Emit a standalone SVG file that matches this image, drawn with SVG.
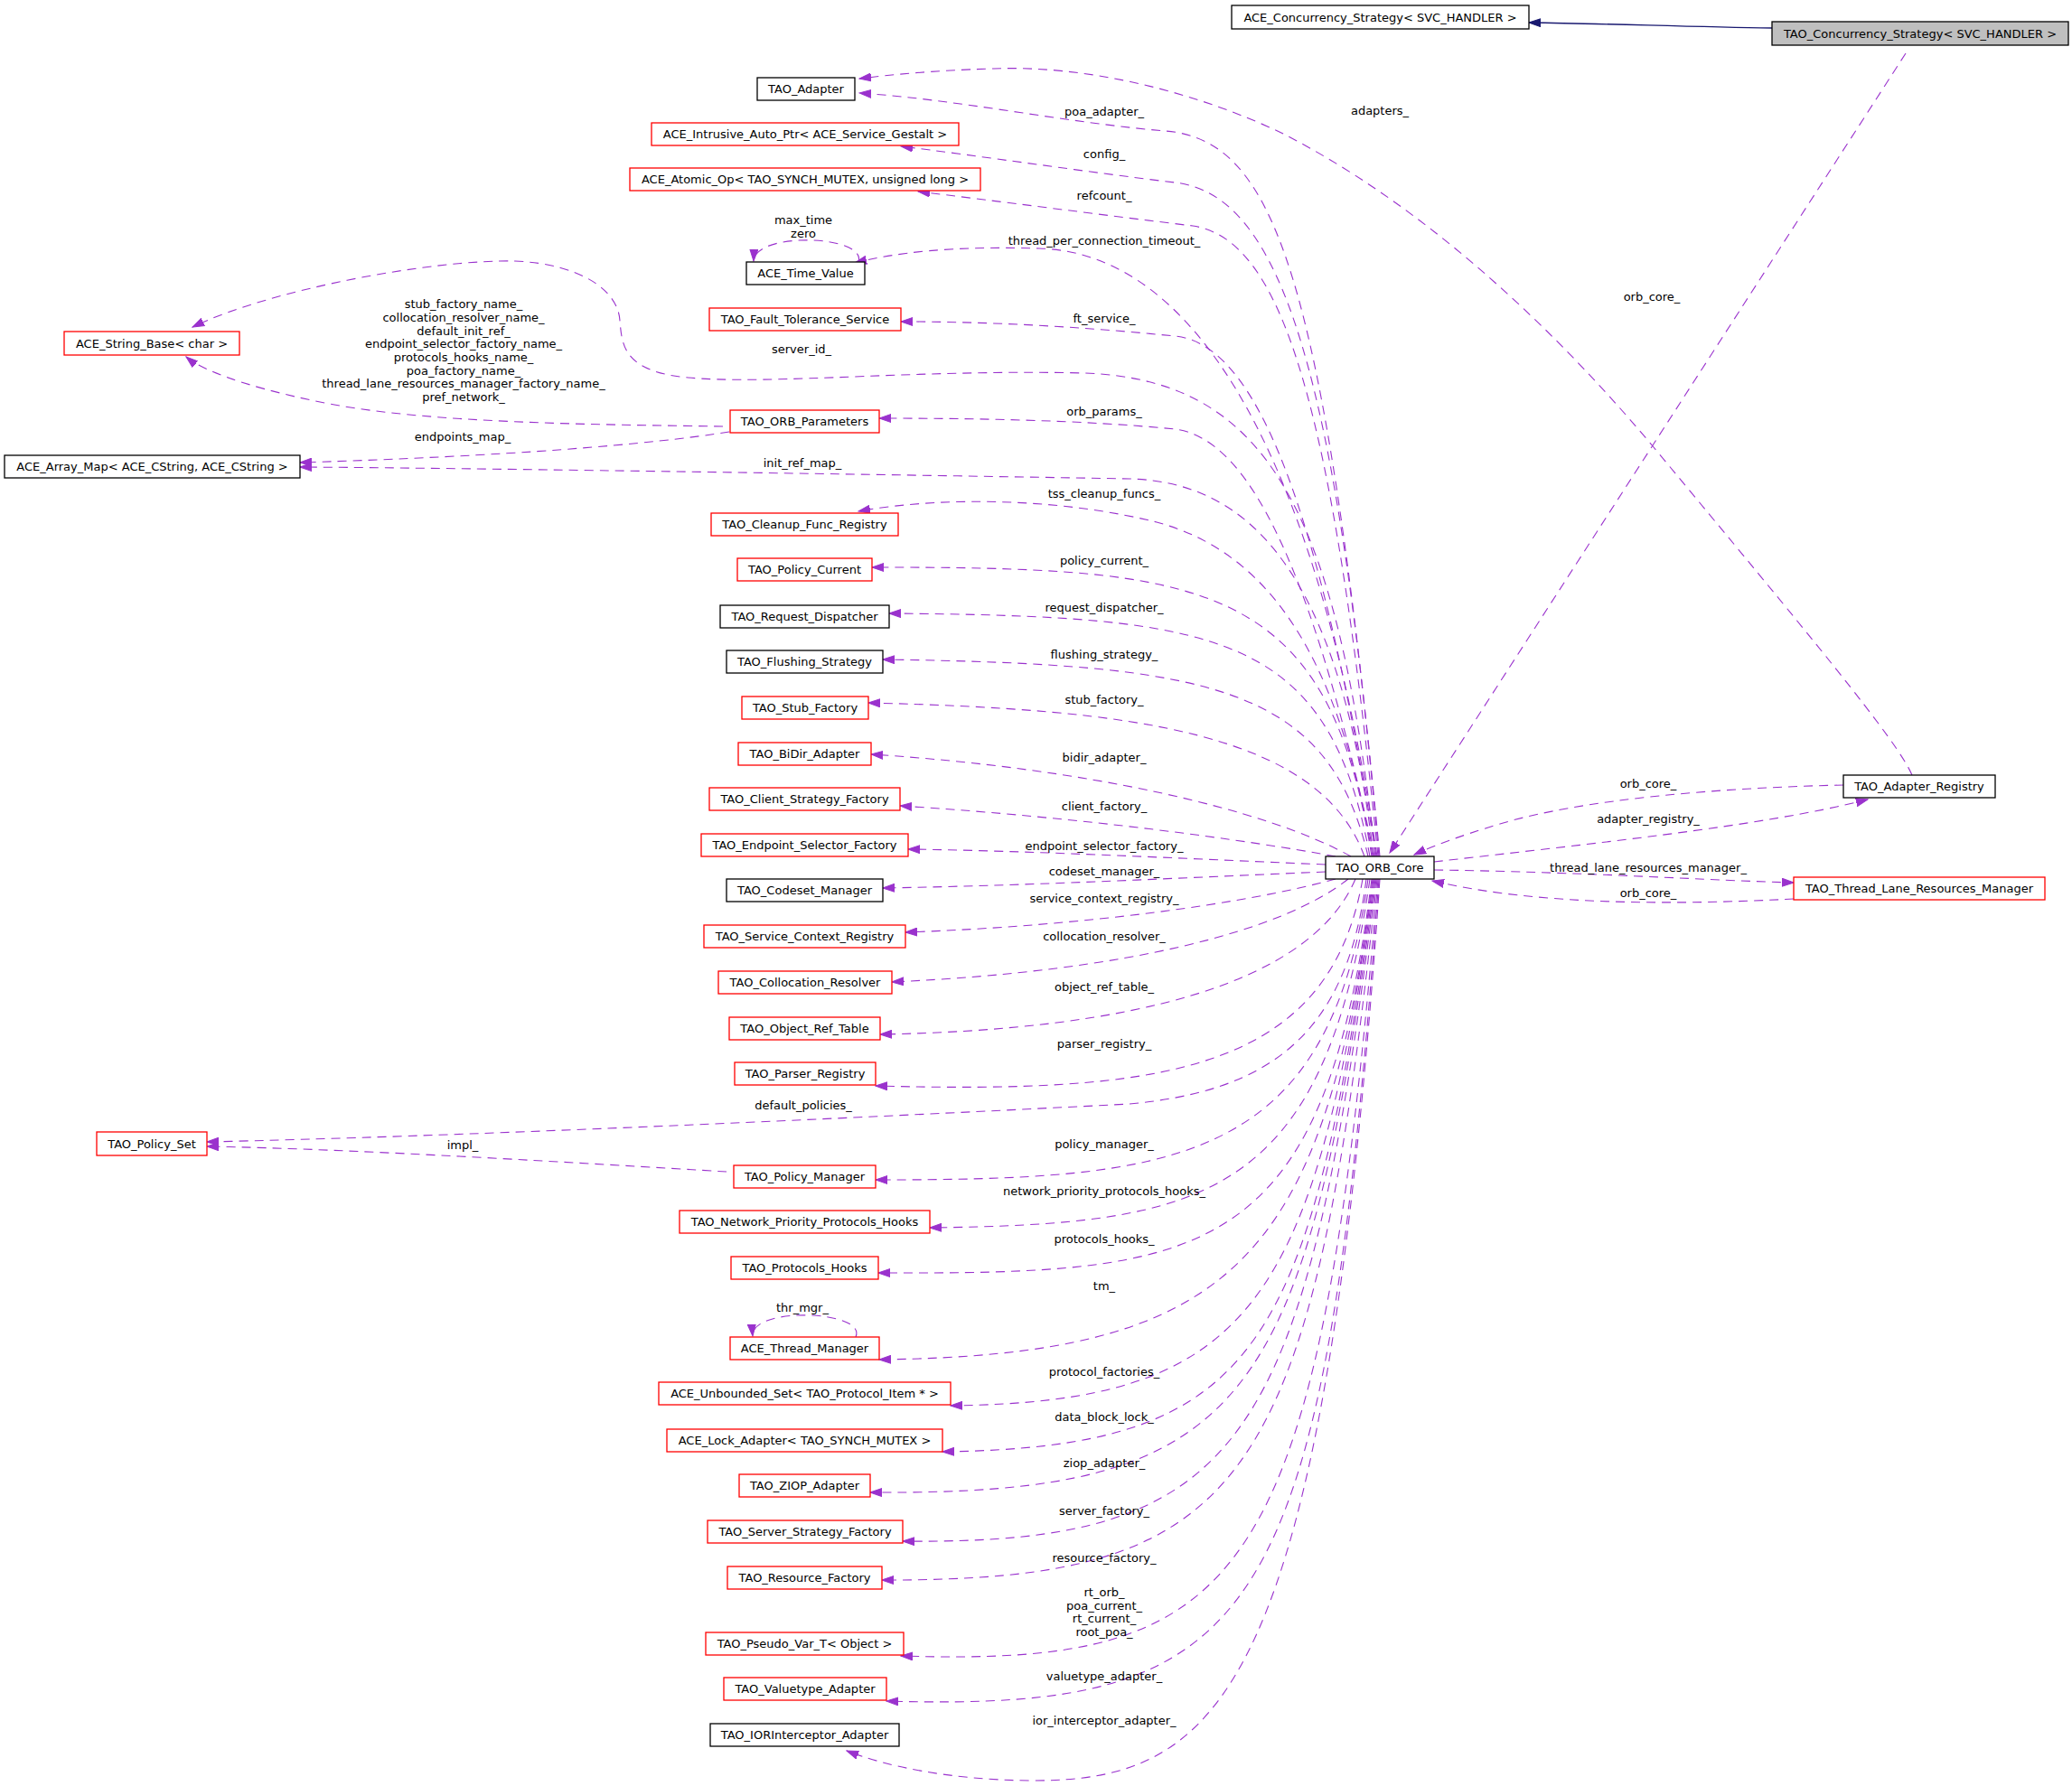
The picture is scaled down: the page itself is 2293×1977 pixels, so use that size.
<svg xmlns="http://www.w3.org/2000/svg" width="2293" height="1977" viewBox="0 0 2293 1977">
<defs>
<marker id="ap" markerUnits="userSpaceOnUse" markerWidth="14" markerHeight="10" viewBox="0 0 14 10" refX="13" refY="5" orient="auto"><path d="M0,0.5 L13,5 L0,9.5 z" fill="#9a32cd" stroke="#9a32cd" stroke-width="1"/></marker>
<marker id="ab" markerUnits="userSpaceOnUse" markerWidth="14" markerHeight="10" viewBox="0 0 14 10" refX="13" refY="5" orient="auto"><path d="M0,0.5 L13,5 L0,9.5 z" fill="#191970" stroke="#191970" stroke-width="1"/></marker>
<style>
text{font-family:"DejaVu Sans","Liberation Sans",sans-serif;font-size:13px;fill:#000;text-anchor:middle}
.n rect{fill:#fff;stroke:#000;stroke-width:1.3}
.r rect{stroke:#ff0000}
.g rect{fill:#bfbfbf}
.e{fill:none;stroke:#9a32cd;stroke-width:1.1;stroke-dasharray:10,7;marker-end:url(#ap)}
.i{fill:none;stroke:#191970;stroke-width:1.3;marker-end:url(#ab)}
</style>
</defs>
<rect width="2293" height="1977" fill="#fff"/>
<g id="edges">
<path class="i" d="M1961,31 C1870,30 1780,26 1692,25"/>
<path class="e" d="M2116,858 C2100,820 2000,700 1830,495 C1700,340 1560,220 1420,148 C1320,100 1200,72 1100,76 C1030,78 985,83 951,87"/>
<text x="1527" y="127">adapters_</text>
<path class="e" d="M2109,59 L1538,944"/>
<text x="1828" y="333">orb_core_</text>
<path class="e" d="M2040,869 C1900,872 1750,885 1660,912 C1610,927 1585,937 1565,946"/>
<text x="1824" y="872">orb_core_</text>
<path class="e" d="M1587,954 C1750,935 1950,915 2067,885"/>
<text x="1824" y="911">adapter_registry_</text>
<path class="e" d="M1587,963 C1750,965 1900,975 1985,977"/>
<text x="1824" y="965">thread_lane_resources_manager_</text>
<path class="e" d="M1985,995 C1850,1002 1700,1002 1585,975"/>
<text x="1824" y="993">orb_core_</text>
<path class="e" d="M1527,948 C1465,300 1410,155 1290,145 C1180,136 1060,110 951,103"/>
<text x="1222" y="128">poa_adapter_</text>
<path class="e" d="M1526,948 C1480,420 1420,215 1300,202 C1200,190 1080,172 997,162"/>
<text x="1222" y="175">config_</text>
<path class="e" d="M1525,948 C1475,450 1420,265 1320,250 C1220,238 1100,222 1016,212"/>
<text x="1222" y="221">refcount_</text>
<path class="e" d="M1524,948 C1460,520 1330,280 1150,275 C1050,272 990,280 946,291"/>
<text x="1222" y="271">thread_per_connection_timeout_</text>
<path class="e" d="M950,290 C960,260 835,256 834,289"/>
<text x="889" y="248">max_time</text>
<text x="889" y="263">zero</text>
<path class="e" d="M1523,948 C1460,560 1390,380 1300,372 C1200,362 1100,356 997,356"/>
<text x="1222" y="357">ft_service_</text>
<path class="e" d="M1522,948 C1480,560 1400,420 1200,413 C1000,408 820,430 740,415 C690,405 688,380 686,355 C684,320 640,292 570,289 C480,287 300,320 213,362"/>
<text x="887" y="391">server_id_</text>
<path class="e" d="M800,472 C650,470 480,468 370,448 C300,435 230,415 206,395"/>
<text x="513" y="341">stub_factory_name_</text>
<text x="513" y="356">collocation_resolver_name_</text>
<text x="513" y="371">default_init_ref_</text>
<text x="513" y="385">endpoint_selector_factory_name_</text>
<text x="513" y="400">protocols_hooks_name_</text>
<text x="513" y="415">poa_factory_name_</text>
<text x="513" y="429">thread_lane_resources_manager_factory_name_</text>
<text x="513" y="444">pref_network_</text>
<path class="e" d="M807,478 C720,492 560,505 332,512"/>
<text x="512" y="488">endpoints_map_</text>
<path class="e" d="M1521,948 C1450,620 1380,485 1300,475 C1200,465 1080,463 973,463"/>
<text x="1222" y="460">orb_params_</text>
<path class="e" d="M1520,948 C1480,600 1360,533 1250,530 C900,524 500,518 332,517"/>
<text x="888" y="517">init_ref_map_</text>
<path class="e" d="M1519,948 C1480,720 1400,610 1280,578 C1180,553 1050,548 950,566"/>
<text x="1222" y="551">tss_cleanup_funcs_</text>
<path class="e" d="M1518,948 C1470,640 1330,628 965,628"/>
<text x="1222" y="625">policy_current_</text>
<path class="e" d="M1516,948 C1470,700 1350,682 984,679"/>
<text x="1222" y="677">request_dispatcher_</text>
<path class="e" d="M1514,948 C1470,760 1340,735 977,730"/>
<text x="1222" y="729">flushing_strategy_</text>
<path class="e" d="M1510,948 C1460,810 1250,785 961,778"/>
<text x="1222" y="779">stub_factory_</text>
<path class="e" d="M1495,948 C1400,895 1200,850 964,835"/>
<text x="1222" y="843">bidir_adapter_</text>
<path class="e" d="M1478,948 C1380,930 1200,905 996,892"/>
<text x="1222" y="897">client_factory_</text>
<path class="e" d="M1467,957 C1300,950 1150,942 1005,940"/>
<text x="1222" y="941">endpoint_selector_factory_</text>
<path class="e" d="M1467,965 C1300,972 1150,980 977,983"/>
<text x="1222" y="969">codeset_manager_</text>
<path class="e" d="M1478,973 C1380,1000 1200,1025 1002,1032"/>
<text x="1222" y="999">service_context_registry_</text>
<path class="e" d="M1492,973 C1420,1030 1250,1075 987,1087"/>
<text x="1222" y="1041">collocation_resolver_</text>
<path class="e" d="M1500,973 C1450,1090 1250,1140 974,1145"/>
<text x="1222" y="1097">object_ref_table_</text>
<path class="e" d="M1508,973 C1470,1190 1280,1210 969,1202"/>
<text x="1222" y="1160">parser_registry_</text>
<path class="e" d="M1512,973 C1490,1150 1400,1208 1250,1222 C900,1240 500,1258 229,1264"/>
<text x="889" y="1228">default_policies_</text>
<path class="e" d="M804,1297 C650,1288 400,1272 229,1269"/>
<text x="512" y="1272">impl_</text>
<path class="e" d="M1514,973 C1470,1290 1300,1306 969,1306"/>
<text x="1222" y="1271">policy_manager_</text>
<path class="e" d="M1516,973 C1465,1330 1330,1355 1029,1359"/>
<text x="1222" y="1323">network_priority_protocols_hooks_</text>
<path class="e" d="M1518,973 C1465,1400 1330,1410 972,1409"/>
<text x="1222" y="1376">protocols_hooks_</text>
<path class="e" d="M1519,973 C1465,1400 1360,1500 973,1505"/>
<text x="1222" y="1428">tm_</text>
<path class="e" d="M947,1480 C960,1450 830,1446 833,1479"/>
<text x="888" y="1452">thr_mgr_</text>
<path class="e" d="M1520,973 C1455,1450 1380,1552 1052,1556"/>
<text x="1222" y="1523">protocol_factories_</text>
<path class="e" d="M1521,973 C1450,1500 1390,1602 1043,1607"/>
<text x="1222" y="1573">data_block_lock_</text>
<path class="e" d="M1522,973 C1445,1560 1380,1655 963,1652"/>
<text x="1222" y="1624">ziop_adapter_</text>
<path class="e" d="M1523,973 C1445,1600 1380,1710 999,1706"/>
<text x="1222" y="1677">server_factory_</text>
<path class="e" d="M1524,973 C1452,1650 1380,1750 976,1749"/>
<text x="1222" y="1729">resource_factory_</text>
<path class="e" d="M1525,973 C1460,1760 1380,1845 997,1833"/>
<text x="1222" y="1767">rt_orb_</text>
<text x="1222" y="1782">poa_current_</text>
<text x="1222" y="1796">rt_current_</text>
<text x="1222" y="1811">root_poa_</text>
<path class="e" d="M1526,973 C1465,1800 1400,1895 981,1883"/>
<text x="1222" y="1860">valuetype_adapter_</text>
<path class="e" d="M1527,973 C1465,1880 1350,1972 1140,1971 C1050,1970 980,1955 937,1938"/>
<text x="1222" y="1909">ior_interceptor_adapter_</text>
</g>
<g id="n_ace_concurrency" class="n"><rect x="1363" y="6" width="329" height="26"/><text x="1527.5" y="24">ACE_Concurrency_Strategy&lt; SVC_HANDLER &gt;</text></g>
<g id="n_tao_concurrency" class="n g"><rect x="1961" y="24" width="328" height="26"/><text x="2125" y="42">TAO_Concurrency_Strategy&lt; SVC_HANDLER &gt;</text></g>
<g id="n_tao_adapter" class="n"><rect x="838" y="86" width="108" height="25"/><text x="892" y="103">TAO_Adapter</text></g>
<g id="n_intrusive" class="n r"><rect x="721" y="136" width="340" height="25"/><text x="891" y="153">ACE_Intrusive_Auto_Ptr&lt; ACE_Service_Gestalt &gt;</text></g>
<g id="n_atomic" class="n r"><rect x="697" y="186" width="388" height="25"/><text x="891" y="203">ACE_Atomic_Op&lt; TAO_SYNCH_MUTEX, unsigned long &gt;</text></g>
<g id="n_time_value" class="n"><rect x="826" y="290" width="131" height="25"/><text x="891.5" y="307">ACE_Time_Value</text></g>
<g id="n_ft" class="n r"><rect x="785" y="341" width="212" height="25"/><text x="891" y="358">TAO_Fault_Tolerance_Service</text></g>
<g id="n_string_base" class="n r"><rect x="71" y="367" width="194" height="26"/><text x="168" y="385">ACE_String_Base&lt; char &gt;</text></g>
<g id="n_orb_params" class="n r"><rect x="808" y="454" width="165" height="25"/><text x="890.5" y="471">TAO_ORB_Parameters</text></g>
<g id="n_array_map" class="n"><rect x="5" y="504" width="327" height="25"/><text x="168.5" y="521">ACE_Array_Map&lt; ACE_CString, ACE_CString &gt;</text></g>
<g id="n_cleanup" class="n r"><rect x="787" y="568" width="207" height="25"/><text x="890.5" y="585">TAO_Cleanup_Func_Registry</text></g>
<g id="n_policy_current" class="n r"><rect x="816" y="618" width="149" height="25"/><text x="890.5" y="635">TAO_Policy_Current</text></g>
<g id="n_request_dispatcher" class="n"><rect x="797" y="670" width="187" height="25"/><text x="890.5" y="687">TAO_Request_Dispatcher</text></g>
<g id="n_flushing" class="n"><rect x="804" y="720" width="173" height="25"/><text x="890.5" y="737">TAO_Flushing_Strategy</text></g>
<g id="n_stub_factory" class="n r"><rect x="821" y="771" width="140" height="25"/><text x="891" y="788">TAO_Stub_Factory</text></g>
<g id="n_bidir" class="n r"><rect x="817" y="822" width="147" height="25"/><text x="890.5" y="839">TAO_BiDir_Adapter</text></g>
<g id="n_client_factory" class="n r"><rect x="785" y="872" width="211" height="25"/><text x="890.5" y="889">TAO_Client_Strategy_Factory</text></g>
<g id="n_endpoint" class="n r"><rect x="776" y="923" width="229" height="25"/><text x="890.5" y="940">TAO_Endpoint_Selector_Factory</text></g>
<g id="n_codeset" class="n"><rect x="804" y="973" width="173" height="25"/><text x="890.5" y="990">TAO_Codeset_Manager</text></g>
<g id="n_svc_ctx" class="n r"><rect x="779" y="1024" width="223" height="25"/><text x="890.5" y="1041">TAO_Service_Context_Registry</text></g>
<g id="n_colloc" class="n r"><rect x="795" y="1075" width="192" height="25"/><text x="891" y="1092">TAO_Collocation_Resolver</text></g>
<g id="n_objref" class="n r"><rect x="807" y="1126" width="167" height="25"/><text x="890.5" y="1143">TAO_Object_Ref_Table</text></g>
<g id="n_parser" class="n r"><rect x="813" y="1176" width="156" height="25"/><text x="891" y="1193">TAO_Parser_Registry</text></g>
<g id="n_policy_set" class="n r"><rect x="107" y="1253" width="122" height="26"/><text x="168" y="1271">TAO_Policy_Set</text></g>
<g id="n_policy_manager" class="n r"><rect x="812" y="1290" width="157" height="25"/><text x="890.5" y="1307">TAO_Policy_Manager</text></g>
<g id="n_netprio" class="n r"><rect x="752" y="1340" width="277" height="25"/><text x="890.5" y="1357">TAO_Network_Priority_Protocols_Hooks</text></g>
<g id="n_protohooks" class="n r"><rect x="809" y="1391" width="163" height="25"/><text x="890.5" y="1408">TAO_Protocols_Hooks</text></g>
<g id="n_thread_manager" class="n r"><rect x="808" y="1480" width="165" height="25"/><text x="890.5" y="1497">ACE_Thread_Manager</text></g>
<g id="n_unbounded" class="n r"><rect x="729" y="1530" width="323" height="25"/><text x="890.5" y="1547">ACE_Unbounded_Set&lt; TAO_Protocol_Item * &gt;</text></g>
<g id="n_lock_adapter" class="n r"><rect x="738" y="1582" width="305" height="25"/><text x="890.5" y="1599">ACE_Lock_Adapter&lt; TAO_SYNCH_MUTEX &gt;</text></g>
<g id="n_ziop" class="n r"><rect x="818" y="1632" width="145" height="25"/><text x="890.5" y="1649">TAO_ZIOP_Adapter</text></g>
<g id="n_server_factory" class="n r"><rect x="783" y="1683" width="216" height="25"/><text x="891" y="1700">TAO_Server_Strategy_Factory</text></g>
<g id="n_resource_factory" class="n r"><rect x="805" y="1734" width="171" height="25"/><text x="890.5" y="1751">TAO_Resource_Factory</text></g>
<g id="n_pseudo" class="n r"><rect x="781" y="1807" width="219" height="25"/><text x="890.5" y="1824">TAO_Pseudo_Var_T&lt; Object &gt;</text></g>
<g id="n_valuetype" class="n r"><rect x="801" y="1857" width="180" height="25"/><text x="891" y="1874">TAO_Valuetype_Adapter</text></g>
<g id="n_ior" class="n"><rect x="786" y="1908" width="209" height="25"/><text x="890.5" y="1925">TAO_IORInterceptor_Adapter</text></g>
<g id="n_orb_core" class="n"><rect x="1467" y="948" width="120" height="25"/><text x="1527" y="965">TAO_ORB_Core</text></g>
<g id="n_adapter_registry" class="n"><rect x="2040" y="858" width="168" height="25"/><text x="2124" y="875">TAO_Adapter_Registry</text></g>
<g id="n_tlrm" class="n r"><rect x="1985" y="971" width="278" height="25"/><text x="2124" y="988">TAO_Thread_Lane_Resources_Manager</text></g>
</svg>
